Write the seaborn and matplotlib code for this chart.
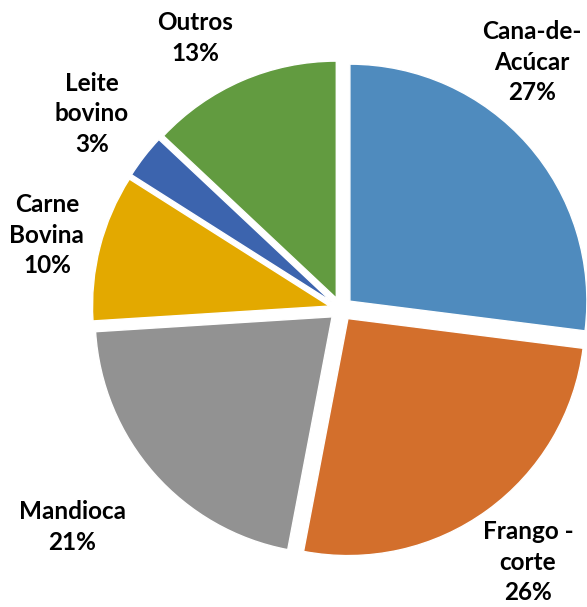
import matplotlib
matplotlib.use("Agg")
import matplotlib.pyplot as plt
import seaborn as sns

# data
labels = ["Cana-de-\nAcúcar", "Frango -\ncorte", "Mandioca", "Carne\nBovina", "Leite\nbovino", "Outros"]
shares = [27, 26, 21, 10, 3, 13]
colors = ["#4F8BBE", "#D36F2C", "#929292", "#E3A900", "#3C64AE", "#629B40"]

# label centres (data units, pie radius = 1)
label_pos = [(0.806, 1.042), (0.789, -1.068), (-1.135, -0.920),
             (-1.241, 0.312), (-1.051, 0.823), (-0.616, 1.143)]

sns.set_style("white")
plt.rcParams['font.family'] = ['Lato', 'DejaVu Sans']

fig = plt.figure(figsize=(5.87, 6.07), dpi=100)
ax = fig.add_axes([0, 0, 1, 1])

ax.pie(shares, colors=colors, startangle=90, counterclock=False,
       explode=[0.05] * len(shares),
       wedgeprops=dict(edgecolor="white", linewidth=1))

for lab, val, (x, y) in zip(labels, shares, label_pos):
    ax.text(x, y, f"{lab}\n{val}%", ha="center", va="center",
            fontsize=17.5, fontweight="bold", linespacing=1.4, color="black")

ax.set_xlim(-341 / 237, 246 / 237)
ax.set_ylim(-298 / 237, 309 / 237)
ax.set_aspect("auto")
ax.axis("off")

fig.savefig("out.png", dpi=100)
